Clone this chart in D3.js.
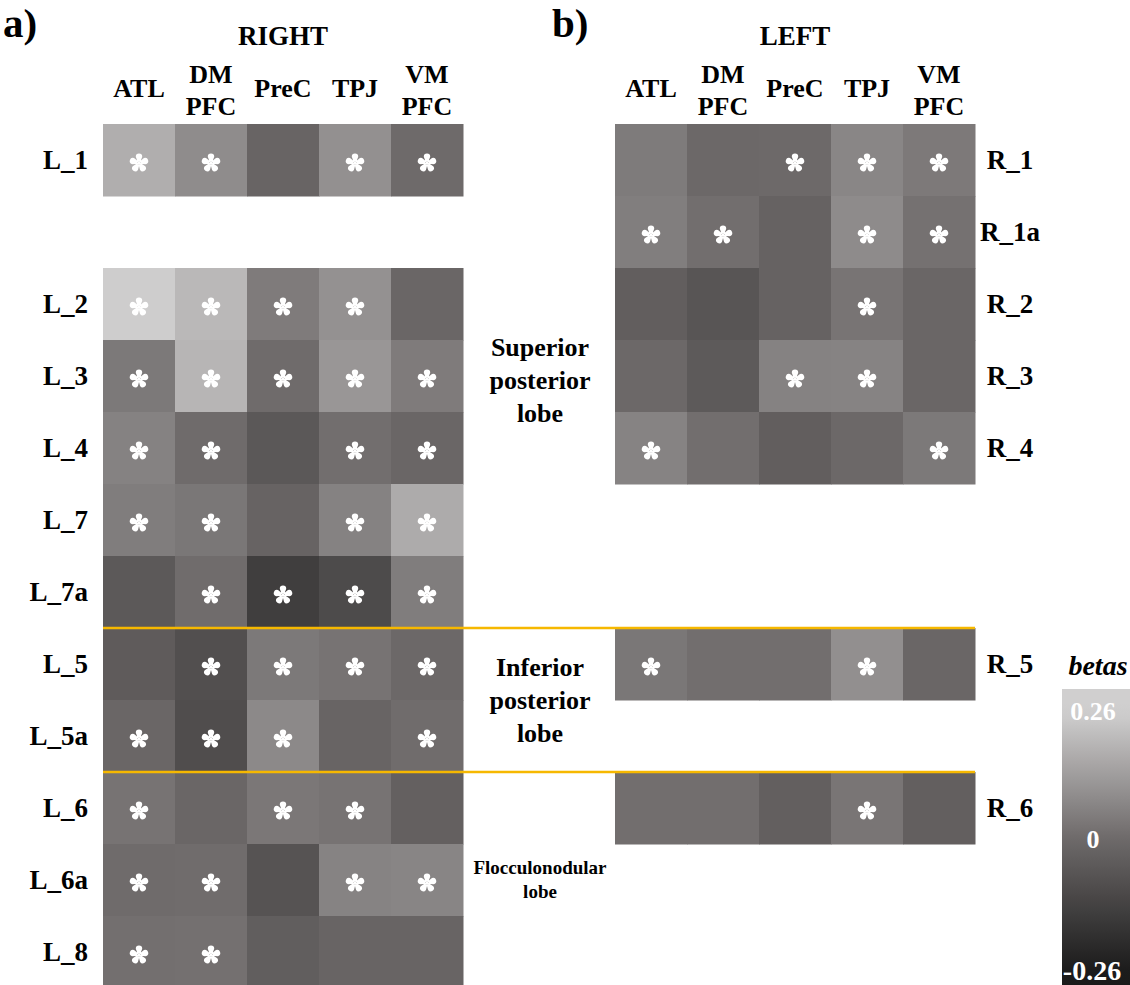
<!DOCTYPE html>
<html><head><meta charset="utf-8"><script src="https://cdn.jsdelivr.net/npm/d3@7"></script></head>
<body style="margin:0">
<svg id="chart" width="1130" height="985"></svg>
<script>
// ---------------- DATA ----------------
const columns = ["ATL", "DMPFC", "PreC", "TPJ", "VMPFC"];
const columnHeaderLines = [["ATL"], ["DM", "PFC"], ["PreC"], ["TPJ"], ["VM", "PFC"]];

// Panel a) RIGHT hemisphere networks, left cerebellum rows
const rightPanelRows = ["L_1", "L_2", "L_3", "L_4", "L_7", "L_7a", "L_5", "L_5a", "L_6", "L_6a", "L_8"];
const rightPanelBetas = [
  [0.178, 0.093, -0.010, 0.103, 0.008],
  [0.255, 0.203, 0.051, 0.105, -0.003],
  [0.044, 0.196, 0.010, 0.118, 0.051],
  [0.067, 0.010, -0.051, 0.018, -0.003],
  [0.054, 0.039, -0.013, 0.067, 0.170],
  [-0.048, 0.013, -0.138, -0.096, 0.054],
  [-0.039, -0.080, 0.044, 0.031, 0.003],
  [-0.003, -0.087, 0.085, -0.010, 0.013],
  [0.031, -0.003, 0.041, 0.031, -0.022],
  [0.010, 0.013, -0.067, 0.069, 0.075],
  [0.021, 0.023, -0.032, -0.010, -0.010]
];
const rightPanelSig = [
  [1, 1, 0, 1, 1],
  [1, 1, 1, 1, 0],
  [1, 1, 1, 1, 1],
  [1, 1, 0, 1, 1],
  [1, 1, 0, 1, 1],
  [0, 1, 1, 1, 1],
  [0, 1, 1, 1, 1],
  [1, 1, 1, 0, 1],
  [1, 0, 1, 1, 0],
  [1, 1, 0, 1, 1],
  [1, 1, 0, 0, 0]
];

// Panel b) LEFT hemisphere networks, right cerebellum rows
const leftPanelRows = ["R_1", "R_1a", "R_2", "R_3", "R_4", "R_5", "R_6"];
const leftPanelBetas = [
  [0.049, 0.003, 0.005, 0.077, 0.046],
  [0.057, 0.018, -0.016, 0.090, 0.026],
  [-0.029, -0.061, -0.016, 0.033, -0.003],
  [0.003, -0.045, 0.067, 0.069, -0.003],
  [0.069, 0.018, -0.029, 0.003, 0.044],
  [0.039, 0.018, 0.018, 0.100, -0.003],
  [0.018, 0.018, -0.026, 0.036, -0.026]
];
const leftPanelSig = [
  [0, 0, 1, 1, 1],
  [1, 1, 0, 1, 1],
  [0, 0, 0, 1, 0],
  [0, 0, 1, 1, 0],
  [1, 0, 0, 0, 1],
  [1, 0, 0, 1, 0],
  [0, 0, 0, 1, 0]
];

// row slots (layout of the shared vertical grid)
const rightPanelSlots = ["L_1", "gap_a", "L_2", "L_3", "L_4", "L_7", "L_7a", "L_5", "L_5a", "L_6", "L_6a", "L_8"];
const leftPanelSlots = ["R_1", "R_1a", "R_2", "R_3", "R_4", "gap_b1", "gap_b2", "R_5", "gap_b3", "R_6", "gap_b4", "gap_b5"];

const lobeLabels = [
  { lines: ["Superior", "posterior", "lobe"], row: "L_3", at: 0.56, size: 26 },
  { lines: ["Inferior", "posterior", "lobe"], row: "L_5a", at: 0.0, size: 26 },
  { lines: ["Flocculonodular", "lobe"], row: "L_6a", at: 0.5, size: 19 }
];
const dividerRows = ["L_5", "L_6"];
const betaDomain = [-0.26, 0, 0.26];
const colorbarTicks = [0.26, 0, -0.26];

// ---------------- DRAW ----------------
const FONT = '"Liberation Serif", monospace';
const svg = d3.select("#chart");

function txt(parent) {
  return parent.append("text").style("font-family", FONT).attr("font-weight", "bold");
}

const color = d3.scaleLinear()
  .domain(betaDomain)
  .range(["#1a1a1a", "#6b6767", "#d0cfcf"])
  .clamp(true);

const yRight = d3.scaleBand().domain(rightPanelSlots).range([124, 988]);
const yLeft = d3.scaleBand().domain(leftPanelSlots).range([124, 988]);
const xA = d3.scaleBand().domain(columns).range([103, 463]);
const xB = d3.scaleBand().domain(columns).range([615, 975]);

// five-petal asterisk symbol
const petalAsterisk = {
  draw(context, size) {
    const R = Math.sqrt(size) / 2;
    const r = R * 0.34, d = R - r;
    for (let k = 0; k < 5; k++) {
      const t = -Math.PI / 2 + k * 2 * Math.PI / 5;
      const cx = d * Math.cos(t), cy = d * Math.sin(t);
      const a1 = t + Math.PI / 2;
      const ux = Math.cos(t), uy = Math.sin(t), vx = -uy, vy = ux;
      const w0 = R * 0.09;
      context.moveTo(-vx * w0, -vy * w0);
      context.lineTo(vx * w0, vy * w0);
      context.lineTo(cx + r * Math.cos(a1), cy + r * Math.sin(a1));
      context.arc(cx, cy, r, a1, t - Math.PI / 2, true);
      context.closePath();
    }
    context.moveTo(R * 0.17, 0);
    context.arc(0, 0, R * 0.17, 0, 2 * Math.PI);
  }
};
const starPath = d3.symbol().type(petalAsterisk).size(19 * 19)();

function drawPanel(x, y, rows, betas, sig) {
  const cells = [];
  rows.forEach((row, i) => columns.forEach((c, j) => cells.push({ row, col: c, v: betas[i][j], s: sig[i][j] })));
  const g = svg.append("g");
  g.selectAll("rect").data(cells).join("rect")
    .attr("x", d => x(d.col))
    .attr("y", d => y(d.row))
    .attr("width", x.bandwidth() + 0.5)
    .attr("height", y.bandwidth() + 0.5)
    .attr("fill", d => color(d.v));
  g.selectAll("path.star").data(cells.filter(d => d.s)).join("path")
    .attr("class", "star")
    .attr("d", starPath)
    .attr("fill", "#ffffff")
    .attr("transform", d => `translate(${x(d.col) + x.bandwidth() / 2},${y(d.row) + y.bandwidth() / 2 + 3})`);
}

drawPanel(xA, yRight, rightPanelRows, rightPanelBetas, rightPanelSig);
drawPanel(xB, yLeft, leftPanelRows, leftPanelBetas, leftPanelSig);

// divider lines
svg.selectAll("line.div").data(dividerRows).join("line")
  .attr("class", "div")
  .attr("x1", xA.range()[0]).attr("x2", xB.range()[1])
  .attr("y1", d => yRight(d)).attr("y2", d => yRight(d))
  .attr("stroke", "#f6b800").attr("stroke-width", 2.5);

// panel letters & titles
txt(svg).attr("x", 3).attr("y", 37).attr("font-size", 41).text("a)");
txt(svg).attr("x", 552).attr("y", 37).attr("font-size", 41).text("b)");
txt(svg).attr("x", (xA.range()[0] + xA.range()[1]) / 2).attr("y", 45)
  .attr("text-anchor", "middle").attr("font-size", 27).text("RIGHT");
txt(svg).attr("x", (xB.range()[0] + xB.range()[1]) / 2).attr("y", 45)
  .attr("text-anchor", "middle").attr("font-size", 27).text("LEFT");

// column headers
function drawHeaders(x) {
  const g = svg.append("g");
  columns.forEach((c, j) => {
    const lines = columnHeaderLines[j];
    const cx = x(c) + x.bandwidth() / 2;
    const t = txt(g).attr("text-anchor", "middle").attr("font-size", 26);
    if (lines.length === 1) {
      t.append("tspan").attr("x", cx).attr("y", 97).text(lines[0]);
    } else {
      t.append("tspan").attr("x", cx).attr("y", 83).text(lines[0]);
      t.append("tspan").attr("x", cx).attr("y", 115).text(lines[1]);
    }
  });
}
drawHeaders(xA);
drawHeaders(xB);

// row labels
const gRowA = svg.append("g");
rightPanelRows.forEach(d => {
  txt(gRowA).attr("x", 88)
    .attr("y", yRight(d) + yRight.bandwidth() / 2 + 9)
    .attr("text-anchor", "end").attr("font-size", 27)
    .text(d);
});
const gRowB = svg.append("g");
leftPanelRows.forEach(d => {
  txt(gRowB).attr("x", 1010)
    .attr("y", yLeft(d) + yLeft.bandwidth() / 2 + 9)
    .attr("text-anchor", "middle").attr("font-size", 27)
    .text(d);
});

// lobe labels
lobeLabels.forEach(l => {
  const mid = yRight(l.row) + yRight.bandwidth() * l.at;
  const lh = l.size * 1.27;
  const t = txt(svg).attr("text-anchor", "middle").attr("font-size", l.size);
  l.lines.forEach((s, i) => {
    t.append("tspan").attr("x", 540)
      .attr("y", mid + (i - (l.lines.length - 1) / 2) * lh + l.size * 0.33)
      .text(s);
  });
});

// colorbar
const cbX = 1062, cbW = 68, cbTop = 689, cbBot = 985;
const defs = svg.append("defs");
const grad = defs.append("linearGradient").attr("id", "cbGrad")
  .attr("x1", 0).attr("y1", 0).attr("x2", 0).attr("y2", 1);
const cbScale = d3.scaleLinear().domain([0.26, -0.26]).range([cbTop + 23, cbBot - 12]);
const stops = d3.range(0, 1.0001, 0.05);
grad.selectAll("stop").data(stops).join("stop")
  .attr("offset", d => d)
  .attr("stop-color", d => color(cbScale.invert(cbTop + d * (cbBot - cbTop))));
svg.append("rect").attr("x", cbX).attr("y", cbTop).attr("width", cbW).attr("height", cbBot - cbTop)
  .attr("fill", "url(#cbGrad)");
txt(svg).attr("x", 1098).attr("y", 675).attr("text-anchor", "middle")
  .attr("font-size", 28).attr("font-style", "italic").text("betas");
const tickY = { "0.26": 720, "0": 848, "-0.26": 980 };
const gTicks = svg.append("g");
colorbarTicks.forEach(d => {
  txt(gTicks).attr("x", d < 0 ? 1092 : 1093)
    .attr("y", tickY[String(d)])
    .attr("text-anchor", "middle")
    .attr("font-size", d < 0 ? 28 : 26)
    .attr("fill", "#ffffff")
    .text(String(d));
});
</script>
</body>
</html>
